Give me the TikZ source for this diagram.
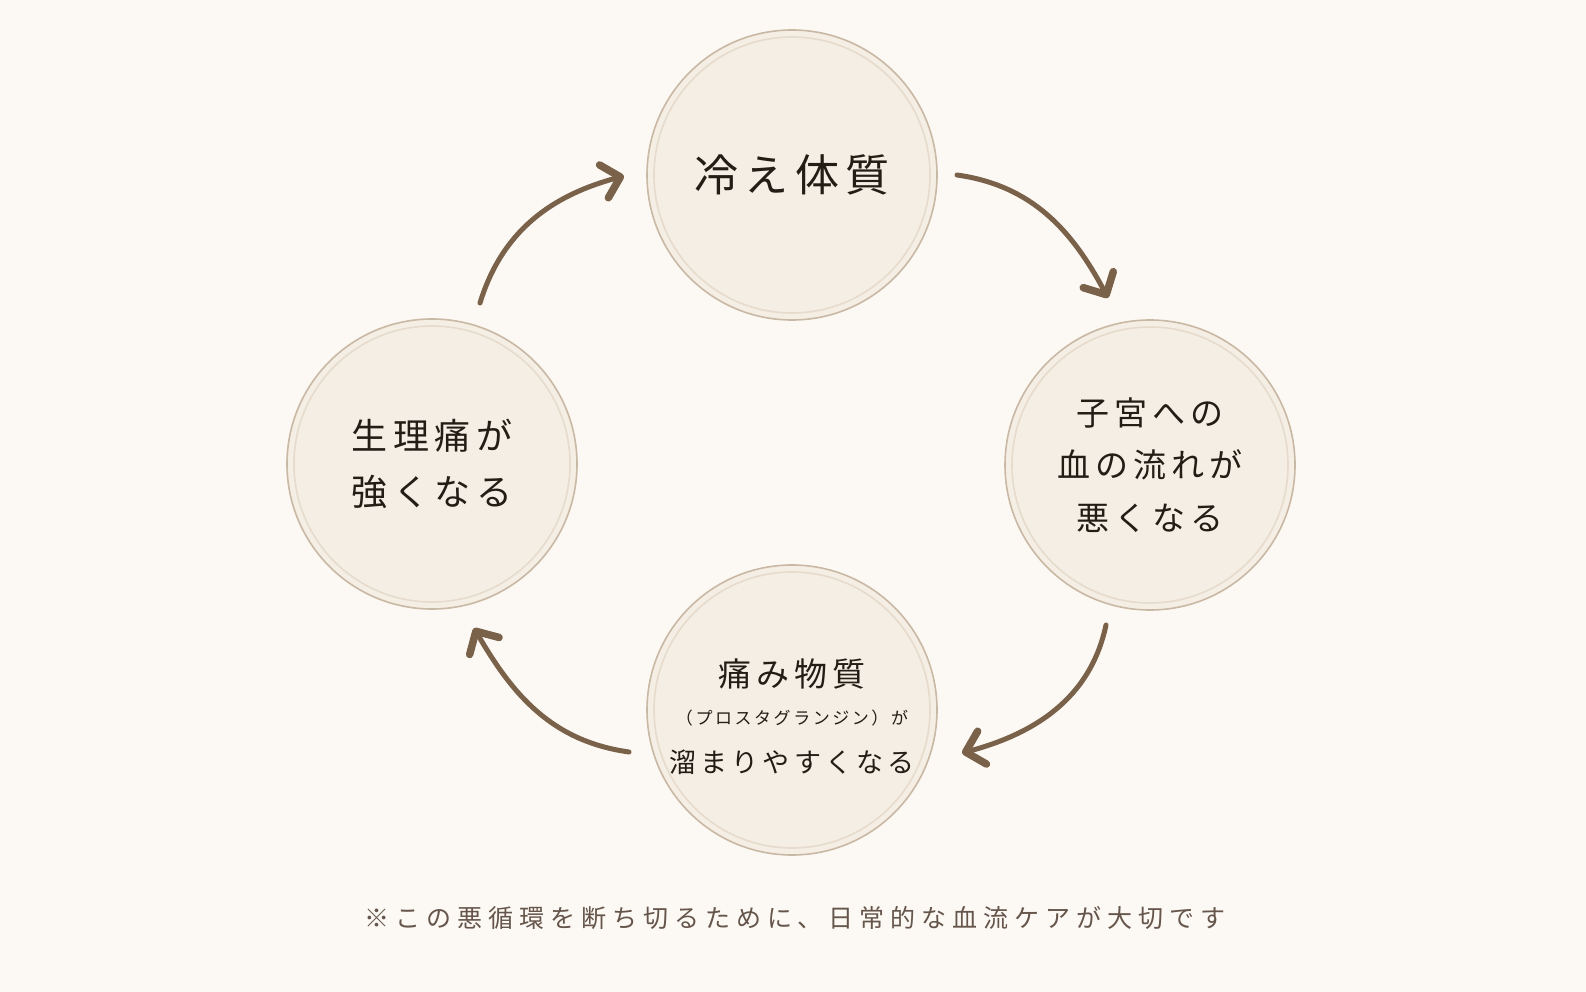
\documentclass[tikz,border=0pt]{standalone}
\usepackage{fontspec}
\usetikzlibrary{arrows.meta}
\newfontfamily\jp[LetterSpace=15]{Noto Sans CJK JP}
\newfontfamily\jpnote[LetterSpace=24]{Noto Sans CJK JP}
\definecolor{bgc}{HTML}{FCF9F4}
\definecolor{circfill}{HTML}{F5EEE4}
\definecolor{circline}{HTML}{C9B8A4}
\definecolor{ringline}{HTML}{E6DBCC}
\definecolor{arrowc}{HTML}{7A6149}
\definecolor{textc}{HTML}{241C15}
\definecolor{notec}{HTML}{65554A}
\tikzset{
  cyc/.style={circle, minimum size=290pt, inner sep=0pt, fill=circfill, draw=circline, line width=1.6pt,
    path picture={\draw[ringline, line width=1.6pt] (path picture bounding box.center) circle[radius=138pt];}},
  lbl/.style={align=center, text=textc, inner sep=0pt},
  flow/.style={draw=arrowc, line width=5pt, line cap=round,
    -{Straight Barb[length=17pt, width=34pt, line width=7.5pt, round]}},
}
\begin{document}
\begin{tikzpicture}[x=1pt, y=-1pt]
\useasboundingbox (0,0) rectangle (1586,992);
\fill[bgc] (0,0) rectangle (1586,992);

\node[cyc] (top) at (792,175) {};
\node[cyc] (right) at (1150,465) {};
\node[cyc] (bottom) at (792,710) {};
\node[cyc] (left) at (432,464) {};

\node[lbl, font=\jp\fontsize{44}{50}\selectfont] (toptext) at (top.center) {冷え体質};
\node[lbl, font=\jp\fontsize{36}{56}\selectfont] (lefttext) at (left.center) {生理痛が\\強くなる};
\node[lbl, font=\jp\fontsize{33}{52.5}\selectfont] (righttext) at (right.center) {子宮への\\血の流れが\\悪くなる};
\node[lbl, text width=280pt] (bottomtext) at (792,717) {%
  {\jp\fontsize{33}{40}\selectfont 痛み物質\par}\vspace{12pt}
  {\jp\fontsize{17}{26}\selectfont （プロスタグランジン）が\par}\vspace{14pt}
  {\jp\fontsize{27}{34}\selectfont 溜まりやすくなる\par}};

\node[lbl, text=notec, font=\jpnote\fontsize{25}{30}\selectfont] (note) at (795,918) {※この悪循環を断ち切るために、日常的な血流ケアが大切です};

\coordinate (a1s) at (957,175);
\coordinate (a1e) at (1108,298);
\coordinate (a2s) at (1106,625);
\coordinate (a2e) at (962,753);
\coordinate (a3s) at (629,752);
\coordinate (a3e) at (474,628);
\coordinate (a4s) at (480,303);
\coordinate (a4e) at (624,176);

\draw[flow] (a1s) to[out=-8, in=118] (a1e);
\draw[flow] (a2s) to[out=-102, in=15] (a2e);
\draw[flow] (a3s) to[out=172, in=-60] (a3e);
\draw[flow] (a4s) to[out=73, in=195] (a4e);
\end{tikzpicture}
\end{document}
